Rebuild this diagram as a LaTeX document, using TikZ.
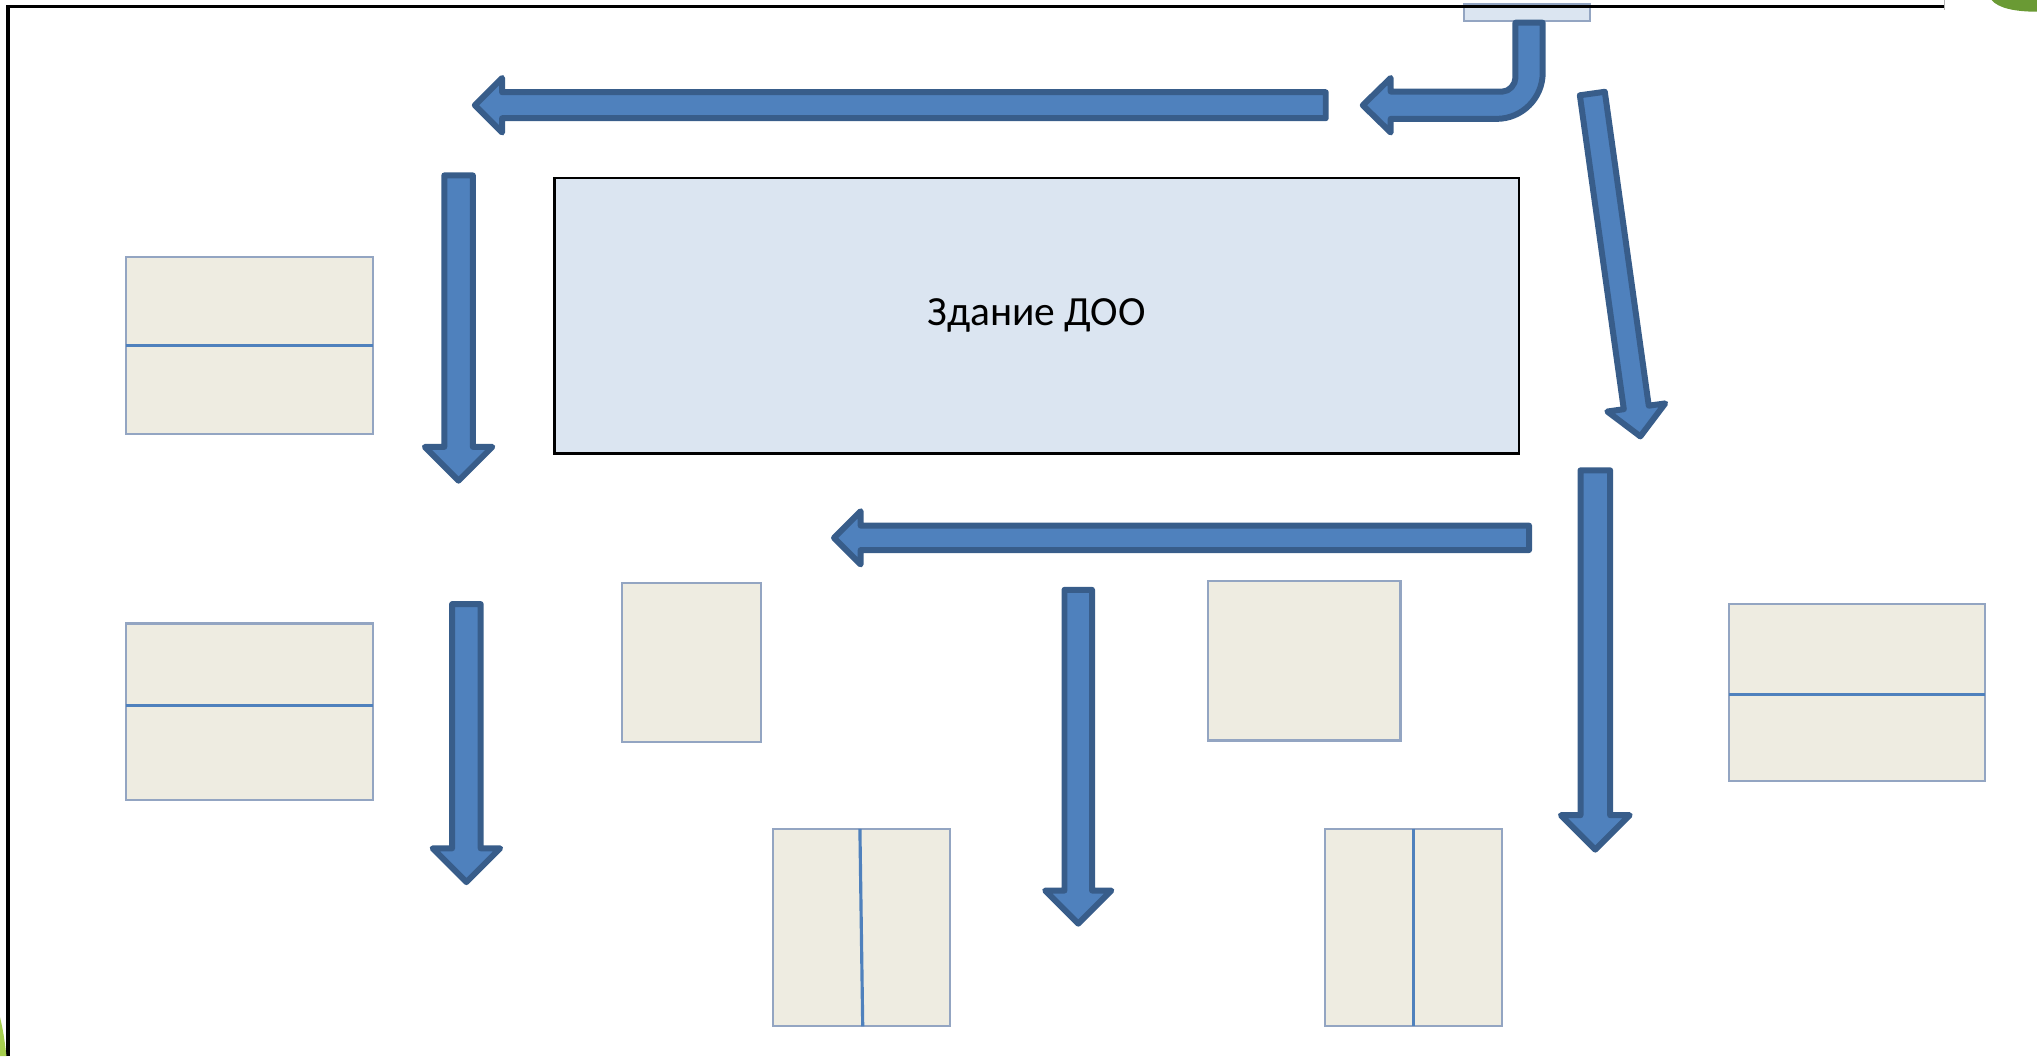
\documentclass[tikz,border=0pt]{standalone}
\usepackage{fontspec}
\setmainfont{Carlito}
\usetikzlibrary{calc}
\definecolor{arrowblue}{HTML}{4F81BD}
\definecolor{arrowedge}{HTML}{385D8A}
\definecolor{housefill}{HTML}{DBE5F1}
\definecolor{lotfill}{HTML}{EEECE1}
\definecolor{lotedge}{HTML}{93A5C2}
\definecolor{leafdark}{HTML}{6A9A34}
\definecolor{leaflight}{HTML}{A6CE4E}
\tikzset{ blk/.style = { fill = arrowblue % block arrow
        , draw = arrowedge
        , line width = 1.7pt
        , line join = round
        }
        , lot/.style = { rectangle % play area
        , draw = lotedge
        , fill = lotfill
        , line width = 0.6pt
        , inner sep = 0pt
        , outer sep = 0pt
        }
        , split/.style = { draw = arrowblue % divider
        , line width = 0.9pt
        }
        , house/.style = { rectangle % building
        , draw = black
        , fill = housefill
        , line width = 0.6pt
        , font = \fontsize{11.8}{14}\selectfont
        }
        }
% tail, angle, length, half shaft, half head
\newcommand{\blockarrow}[5]{%
    \begin{scope}[shift={#1}, rotate=#2]
        \draw[blk] (0,-#4) -- ({#3-#5},-#4) -- ({#3-#5},-#5) -- (#3,0)
            -- ({#3-#5},#5) -- ({#3-#5},#4) -- (0,#4) -- cycle;
    \end{scope}}

\begin{document}
\begin{tikzpicture}[x=0.012991cm, y=-0.012991cm]
        \useasboundingbox (0,0) rectangle (1568,813);

        \node [house, minimum width=9.639cm, minimum height=2.754cm] (doo) at (798,243) {Здание ДОО};
        \node [lot, fill=housefill, minimum width=1.260cm, minimum height=0.169cm] (gate) at (1175.5,9.5) {};

        \node [lot, minimum width=2.468cm, minimum height=1.767cm] (lot1) at (192,266) {};
        \node [lot, minimum width=2.468cm, minimum height=1.767cm] (lot2) at (192,548) {};
        \node [lot, minimum width=1.390cm, minimum height=1.585cm] (lot3) at (532.5,510) {};
        \node [lot, minimum width=1.923cm, minimum height=1.598cm] (lot4) at (1004,508.5) {};
        \node [lot, minimum width=2.559cm, minimum height=1.767cm] (lot5) at (1429.5,533) {};
        \node [lot, minimum width=1.767cm, minimum height=1.975cm] (lot6) at (663,714) {};
        \node [lot, minimum width=1.767cm, minimum height=1.975cm] (lot7) at (1088,714) {};

        \draw [split] (lot1.west) -- (lot1.east);
        \draw [split] ([yshift=1.8pt]lot2.west) -- ([yshift=1.8pt]lot2.east);
        \draw [split] ([yshift=-0.7pt]lot5.west) -- ([yshift=-0.7pt]lot5.east);
        \draw [split] ([xshift=-0.4pt]lot6.north) -- ([xshift=0.4pt]lot6.south);
        \draw [split] (lot7.north) -- (lot7.south);

        % arrows
        \draw [blk] (1166.5,17.5) -- (1166.5,60) .. controls (1166.5,65.2) and (1161.7,70.5) .. (1156.5,70.5)
            -- (1070.5,70.5) -- (1070.5,60) -- (1049,81) -- (1070.5,102) -- (1070.5,91.5) -- (1152,91.5)
            .. controls (1171.6,91.5) and (1187.5,75.6) .. (1187.5,56) -- (1187.5,17.5) -- cycle;
        \blockarrow{(1020.5,81)}{180}{655}{10}{21}
        \blockarrow{(353,135)}{-90}{235}{11}{26}
        \blockarrow{(359,465)}{-90}{214}{11}{26}
        \blockarrow{(1225.7,72)}{-82.03}{266.5}{9.7}{22.5}
        \blockarrow{(1177,414)}{180}{535}{9.4}{20.5}
        \blockarrow{(1228,362)}{-90}{292}{11.4}{26.5}
        \blockarrow{(830,454)}{-90}{257}{10.6}{25.5}

        % slide frame
        \draw [black, line width=1.1pt] (6,813) -- (6,5) -- (1497,5);
        \draw [gray!60, line width=0.4pt] (1497,0) -- (1497,8);
        \fill [leafdark] (1533,0) .. controls (1538,6) and (1550,9) .. (1568,9) -- (1568,0) -- cycle;
        \fill [leaflight] (0,783) .. controls (3,795) and (4,805) .. (5,813) -- (0,813) -- cycle;
\end{tikzpicture}
\end{document}
